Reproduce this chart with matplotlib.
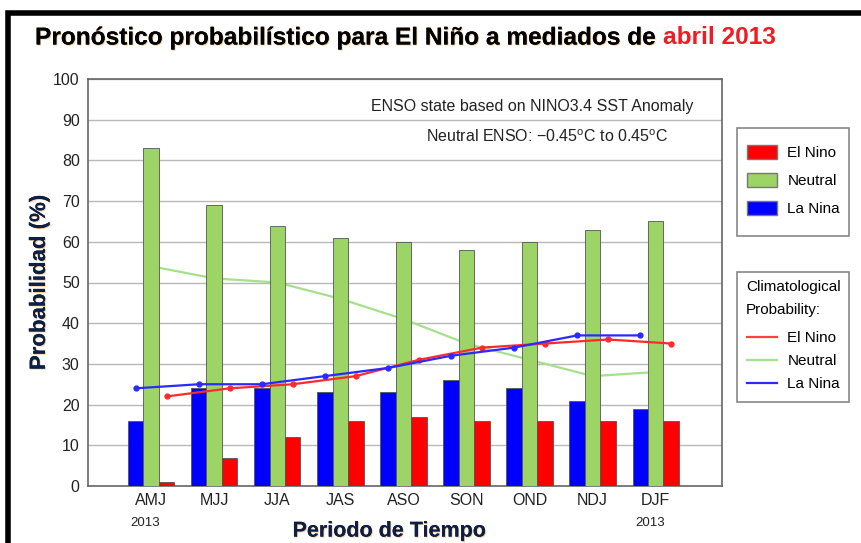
import numpy as np
import matplotlib
matplotlib.use('Agg')
import matplotlib.pyplot as plt
import matplotlib.patheffects as pe
from matplotlib.patches import Patch, Rectangle
from matplotlib.lines import Line2D

plt.rcParams['font.family'] = ['Liberation Sans', 'DejaVu Sans']
plt.rcParams['mathtext.fontset'] = 'custom'
plt.rcParams['mathtext.rm'] = 'Liberation Sans'

seasons = ['AMJ', 'MJJ', 'JJA', 'JAS', 'ASO', 'SON', 'OND', 'NDJ', 'DJF']
la_nina = [16, 24, 24, 23, 23, 26, 24, 21, 19]
neutral = [83, 69, 64, 61, 60, 58, 60, 63, 65]
el_nino = [1, 7, 12, 16, 17, 16, 16, 16, 16]

clim_el_nino = [22, 24, 25, 27, 31, 34, 35, 36, 35]
clim_neutral = [54, 51, 50, 46, 41, 35, 31, 27, 28]
clim_la_nina = [24, 25, 25, 27, 29, 32, 34, 37, 37]

c_red = '#ff0000'
c_green = '#9cd465'
c_blue = '#0000ff'
navy = '#0d1f45'
shadow = [pe.withSimplePatchShadow(offset=(0.7, -0.7), shadow_rgbFace='#e8901c', alpha=0.45), pe.Normal()]

W, H = 862, 543
fig = plt.figure(figsize=(W / 100, H / 100), dpi=100)
ax = fig.add_axes([88 / W, 57 / H, 634 / W, 407 / H])

x = np.arange(len(seasons))
w = 0.245
ax.bar(x - w, la_nina, w, color=c_blue, edgecolor='#555555', linewidth=0.6, zorder=3)
ax.bar(x, neutral, w, color=c_green, edgecolor='#555555', linewidth=0.6, zorder=3)
ax.bar(x + w, el_nino, w, color=c_red, edgecolor='#555555', linewidth=0.6, zorder=3)

ax.plot(x, clim_neutral, color='#a6e08c', lw=1.6, zorder=2)
ax.plot(x + w, clim_el_nino, color='#ff2a2a', lw=1.6, marker='o', ms=3.5, zorder=4)
ax.plot(x - w, clim_la_nina, color='#2a2aff', lw=1.6, marker='o', ms=3.5, zorder=4)

ax.set_xlim(-1.0, 9.05)
ax.set_ylim(0, 100)
ax.set_yticks(range(0, 101, 10))
ax.set_xticks(x)
ax.set_xticklabels(seasons)
ax.tick_params(length=0, labelsize=11.5, colors='#222222', pad=6)
ax.tick_params(axis='x', pad=5)
ax.grid(axis='y', color='#b8b8b8', lw=1, zorder=0)
for s in ax.spines.values():
    s.set_color('#666666')
    s.set_linewidth(1.2)

for xi in [0, len(seasons) - 1]:
    ax.annotate('2013', xy=(xi, 0), xycoords=('data', 'axes fraction'), xytext=(-4, -22),
                textcoords='offset points', ha='center', va='top', fontsize=9.5, color='#222222')

ax.text(0.955, 0.932, 'ENSO state based on NINO3.4 SST Anomaly', transform=ax.transAxes,
        ha='right', va='center', fontsize=11.5, color='#222222')
ax.text(0.915, 0.858, r'Neutral ENSO: $-$0.45$^{\rm o}$C to 0.45$^{\rm o}$C', transform=ax.transAxes,
        ha='right', va='center', fontsize=11.5, color='#222222')

ax.set_xlabel('Periodo de Tiempo', fontsize=15.5, fontweight='bold', color=navy,
              path_effects=shadow)
ax.xaxis.set_label_coords(0.475, -0.085)
ax.set_ylabel('Probabilidad (%)', fontsize=16, fontweight='bold', color=navy,
              path_effects=shadow)
ax.yaxis.set_label_coords(-0.06, 0.5)

# title in two colours
t1 = fig.text(35 / W, 1 - 38 / H, 'Pronóstico probabilístico para El Niño a mediados de ',
              fontsize=17.6, fontweight='bold', color='black', ha='left', va='center',
              path_effects=shadow)
fig.canvas.draw()
bb = t1.get_window_extent(renderer=fig.canvas.get_renderer())
fig.text(bb.x1 / fig.bbox.width, 1 - 38 / H, 'abril 2013', fontsize=17.6, fontweight='bold',
         color='#ee1c24', ha='left', va='center')

# legends (frames drawn separately)
h1 = [Patch(facecolor=c_red, edgecolor='#777777'),
      Patch(facecolor=c_green, edgecolor='#777777'),
      Patch(facecolor=c_blue, edgecolor='#777777')]
fig.legend(h1, ['El Nino', 'Neutral', 'La Nina'], loc='upper left',
           bbox_to_anchor=(737 / W, 1 - 135 / H), fontsize=11, frameon=False,
           handlelength=2.0, handleheight=1.0, labelspacing=0.85, handletextpad=0.65,
           borderpad=0.65, borderaxespad=0)

fig.text(746 / W, 1 - 287 / H, 'Climatological', fontsize=11, color='black', va='center')
fig.text(746 / W, 1 - 310 / H, 'Probability:', fontsize=11, color='black', va='center')
h2 = [Line2D([], [], color='#ff4040', lw=1.6),
      Line2D([], [], color='#a6e08c', lw=1.6),
      Line2D([], [], color='#2a2aff', lw=1.6)]
fig.legend(h2, ['El Nino', 'Neutral', 'La Nina'], loc='upper left',
           bbox_to_anchor=(737 / W, 1 - 321 / H), fontsize=11, frameon=False,
           handlelength=2.0, labelspacing=0.6, handletextpad=0.65, borderpad=0.65,
           borderaxespad=0)

for (x0, y0, x1, y1) in [(737, 128, 849, 236), (737, 272, 849, 402)]:
    fig.patches.append(Rectangle((x0 / W, 1 - y1 / H), (x1 - x0) / W, (y1 - y0) / H,
                                 transform=fig.transFigure, fill=False,
                                 edgecolor='#888888', linewidth=1.2, zorder=5))

# outer black frame
fig.patches.append(Rectangle((8 / W, -0.05), 1.0, 1 - 13 / H + 0.05, transform=fig.transFigure,
                             fill=False, edgecolor='black', linewidth=4, zorder=10))

fig.savefig('out.png', dpi=100)
